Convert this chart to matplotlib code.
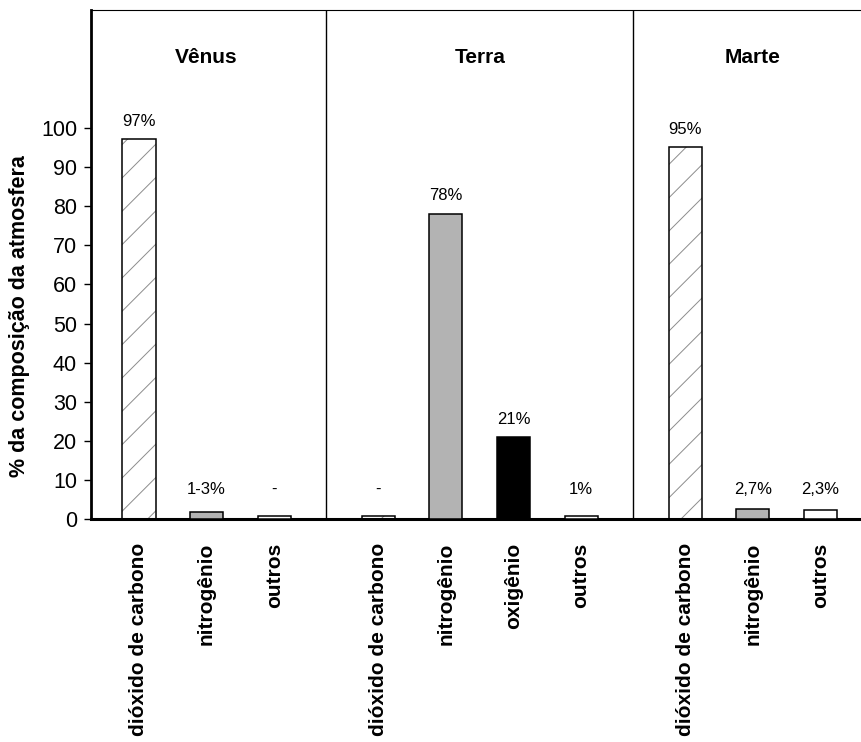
"""Composição da atmosfera de Vênus, Terra e Marte — barras por gás."""
import matplotlib
matplotlib.use("Agg")
import matplotlib.pyplot as plt

plt.rcParams["font.family"] = ["Liberation Sans", "DejaVu Sans"]
plt.rcParams["hatch.linewidth"] = 0.7

# dados
planets = ["Vênus", "Terra", "Marte"]
venus_gases = ["dióxido de carbono", "nitrogênio", "outros"]
venus_vals = [97, 2, 0.8]
venus_labels = ["97%", "1-3%", "-"]
terra_gases = ["dióxido de carbono", "nitrogênio", "oxigênio", "outros"]
terra_vals = [0.8, 78, 21, 1]
terra_labels = ["-", "78%", "21%", "1%"]
marte_gases = ["dióxido de carbono", "nitrogênio", "outros"]
marte_vals = [95, 2.7, 2.3]
marte_labels = ["95%", "2,7%", "2,3%"]

yticks = list(range(0, 101, 10))

# estilo por gás: (cor, hachura)
STYLE = {"dióxido de carbono": ("white", "/"), "nitrogênio": ("#b3b3b3", None),
         "oxigênio": ("black", None), "outros": ("white", None)}
GAP = 1.54
W = 0.49

groups = [(venus_gases, venus_vals, venus_labels),
          (terra_gases, terra_vals, terra_labels),
          (marte_gases, marte_vals, marte_labels)]

fig = plt.figure(figsize=(8.61, 7.42), dpi=100)
ax = fig.add_axes([91 / 861, 0.2999, 1 - 91 / 861, 0.9865 - 0.2999])

xs_all, names_all = [], []
start = 0.0
for gi, (gases, vals, labs) in enumerate(groups):
    xs = [start + i for i in range(len(gases))]
    for x, g, v, lab in zip(xs, gases, vals, labs):
        fc, hatch = STYLE[g]
        if hatch:
            ax.bar(x, v, W, color=fc, edgecolor="#8c8c8c", hatch=hatch, lw=0, zorder=2)
            ax.bar(x, v, W, fill=False, edgecolor="black", lw=1.1, zorder=3)
        else:
            ax.bar(x, v, W, color=fc, edgecolor="black", lw=1.1, zorder=3)
        ax.text(x, max(v, 3) + 4.6, lab, ha="center", va="center", fontsize=12)
    ax.text((xs[0] + xs[-1]) / 2, 118, planets[gi], ha="center", va="center",
            fontsize=15, fontweight="bold")
    xs_all += xs; names_all += gases
    nxt = xs[-1] + GAP
    if gi < len(groups) - 1:
        ax.axvline((xs[-1] + nxt) / 2, color="black", lw=1)
    start = nxt

ax.set_xlim(-0.71, xs_all[-1] + 0.6)
ax.set_ylim(0, 130)
ax.set_yticks(yticks)
ax.set_xticks(xs_all)
ax.set_xticklabels(names_all, rotation=90, fontsize=15, fontweight="bold")
ax.tick_params(axis="x", length=0, pad=17)
ax.tick_params(axis="y", direction="out", length=5, width=1, labelsize=15.5, pad=5)
ax.set_ylabel("% da composição da atmosfera", fontsize=15.5, fontweight="bold")
ax.yaxis.set_label_coords(-0.079, 0.40)

ax.spines["right"].set_visible(False)
ax.spines["left"].set_linewidth(2)
ax.spines["bottom"].set_linewidth(2.2)
ax.spines["top"].set_linewidth(0.8)

fig.savefig("out.png", dpi=100)
